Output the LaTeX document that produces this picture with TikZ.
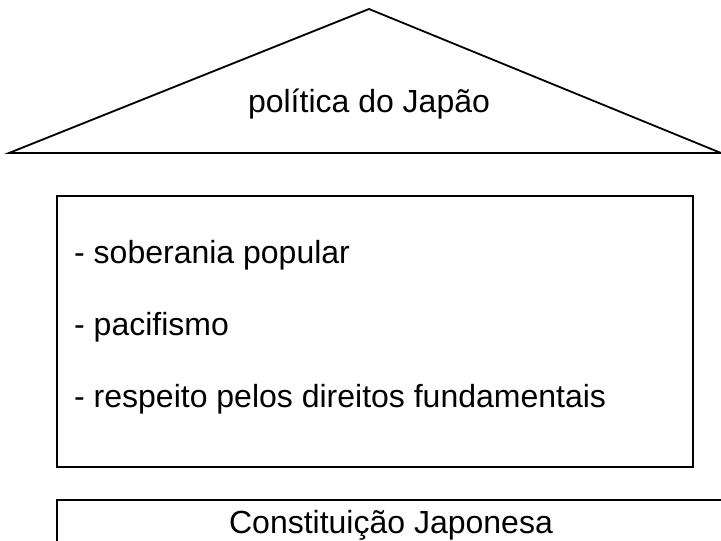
\documentclass[tikz,border=0pt]{standalone}
\usepackage{fontspec}
\setmainfont{Liberation Sans}
\begin{document}
\begin{tikzpicture}[x=1pt,y=-1pt,
  shape line/.style={draw=black,line width=1.8pt,line join=miter},
  label text/.style={font=\fontsize{32}{38}\selectfont,inner sep=0pt}]
\useasboundingbox (0,0) rectangle (721,541);
\begin{scope}
\clip (0,0) rectangle (721,541);
% roof
\coordinate (roofL) at (9,153);
\coordinate (roofR) at (721,153);
\coordinate (roofT) at (369,9);
\draw[shape line] (roofL) -- (roofT) -- (roofR) -- cycle;
% middle box
\draw[shape line] (57,196) rectangle (693,467);
% bottom box (cut off)
\draw[shape line] (730,500) -- (57,500) -- (57,560);
\end{scope}
\node[label text,anchor=base] (title) at (369,112) {política do Japão};
\node[label text,anchor=base west] (p1) at (74,263) {- soberania popular};
\node[label text,anchor=base west] (p2) at (74,335) {- pacifismo};
\node[label text,anchor=base west] (p3) at (74,407) {- respeito pelos direitos fundamentais};
\node[label text,anchor=base] (base) at (391,533) {Constituição Japonesa};
\end{tikzpicture}
\end{document}
